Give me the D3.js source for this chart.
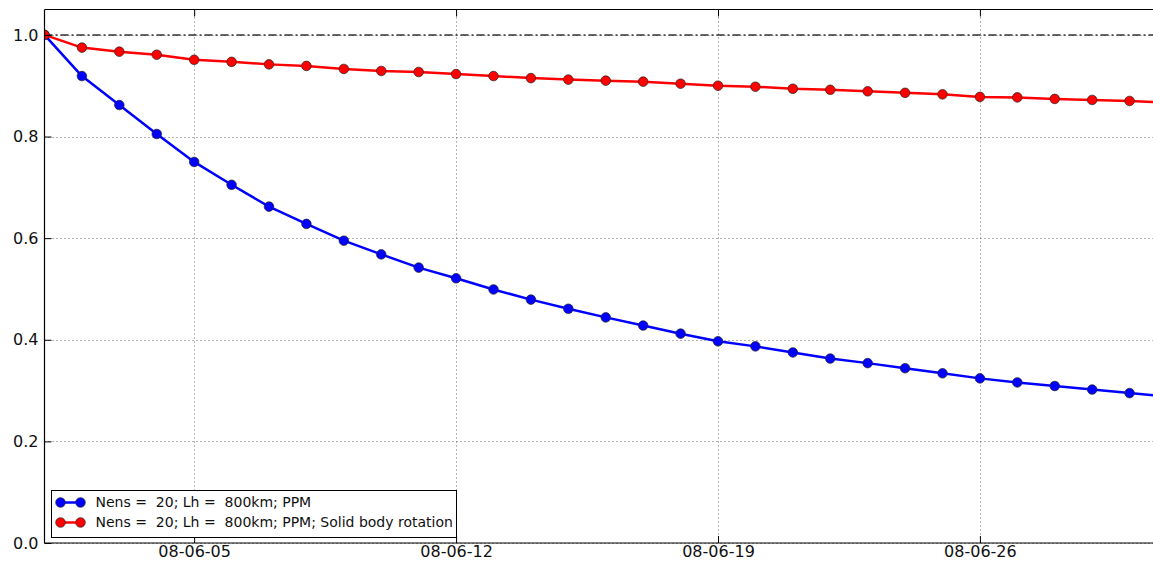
<!DOCTYPE html>
<html>
<head>
<meta charset="utf-8">
<script src="https://cdn.jsdelivr.net/npm/d3@7"></script>
<style>
  html, body { margin: 0; padding: 0; background: #fff; }
  svg { display: block; font-family: "DejaVu Sans", sans-serif; }
  .legend-text { white-space: pre; }
</style>
</head>
<body>
<svg id="chart" width="1153" height="565"></svg>
<script>
// Daily dates, 2008-06-01 .. 2008-07-01
const dates = d3.timeDays(new Date(2008, 5, 1), new Date(2008, 6, 2));

// Series values (normalised)
const ppm = [1.000, 0.919, 0.862, 0.805, 0.750, 0.705, 0.662, 0.628, 0.595, 0.568,
             0.542, 0.521, 0.499, 0.479, 0.461, 0.444, 0.428, 0.412, 0.397, 0.387,
             0.375, 0.363, 0.354, 0.344, 0.334, 0.324, 0.316, 0.309, 0.302, 0.295, 0.288];
const ppmSolid = [1.000, 0.975, 0.967, 0.961, 0.951, 0.947, 0.942, 0.939, 0.933, 0.929,
                  0.927, 0.923, 0.919, 0.915, 0.912, 0.910, 0.908, 0.904, 0.900, 0.898,
                  0.894, 0.892, 0.889, 0.886, 0.883, 0.878, 0.877, 0.874, 0.872, 0.870, 0.867];

const seriesNames = ["Nens =  20; Lh =  800km; PPM",
                     "Nens =  20; Lh =  800km; PPM; Solid body rotation"];
const seriesColors = ["#0000ff", "#ff0000"];

const yTicks = [0.0, 0.2, 0.4, 0.6, 0.8, 1.0];
const xTicks = [new Date(2008, 5, 5), new Date(2008, 5, 12), new Date(2008, 5, 19), new Date(2008, 5, 26)];
const referenceLevel = 1.0;

const svg = d3.select("#chart");
const plot = { left: 44.5, top: 9.5, right: 1167, bottom: 543 };

const x = d3.scaleTime()
  .domain([new Date(2008, 5, 1), new Date(2008, 6, 1)])
  .range([plot.left, plot.right]);
const y = d3.scaleLinear()
  .domain([0, 1.05])
  .range([plot.bottom, plot.top]);

svg.append("defs").append("clipPath").attr("id", "plotclip")
  .append("rect")
  .attr("x", plot.left).attr("y", plot.top)
  .attr("width", plot.right - plot.left).attr("height", plot.bottom - plot.top);

// Grid lines
const grid = svg.append("g").attr("class", "grid")
  .attr("stroke", "#000").attr("stroke-width", 0.7).attr("stroke-dasharray", "1,3")
  .attr("opacity", 0.85);
grid.selectAll("line.gx").data(xTicks).join("line")
  .attr("x1", d => Math.round(x(d)) + 0.5).attr("x2", d => Math.round(x(d)) + 0.5)
  .attr("y1", plot.top).attr("y2", plot.bottom);
grid.selectAll("line.gy").data(yTicks).join("line")
  .attr("x1", plot.left).attr("x2", plot.right)
  .attr("y1", d => Math.round(y(d)) + 0.5).attr("y2", d => Math.round(y(d)) + 0.5);

// Reference line at 1.0
svg.append("line")
  .attr("x1", plot.left).attr("x2", plot.right)
  .attr("y1", y(referenceLevel)).attr("y2", y(referenceLevel))
  .attr("stroke", "#333").attr("stroke-width", 1.5)
  .attr("stroke-dasharray", "8,3,2,3");

// Series lines and markers
const lineGen = d3.line().x((d, i) => x(dates[i])).y(d => y(d));
const gData = svg.append("g").attr("clip-path", "url(#plotclip)");
[ppm, ppmSolid].forEach((vals, k) => {
  gData.append("path")
    .datum(vals)
    .attr("d", lineGen)
    .attr("fill", "none")
    .attr("stroke", seriesColors[k])
    .attr("stroke-width", 2.5)
    .attr("stroke-linejoin", "round");
  gData.selectAll("circle.s" + k).data(vals).join("circle")
    .attr("class", "s" + k)
    .attr("cx", (d, i) => x(dates[i]))
    .attr("cy", d => y(d))
    .attr("r", 4.8)
    .attr("fill", seriesColors[k])
    .attr("stroke", "#222")
    .attr("stroke-width", 0.7);
});

// Frame (left, top, bottom spines)
const frame = svg.append("g").attr("stroke", "#000").attr("stroke-width", 1.2).attr("fill", "none");
frame.append("line").attr("x1", plot.left).attr("x2", plot.left).attr("y1", plot.top).attr("y2", plot.bottom);
frame.append("line").attr("x1", plot.left).attr("x2", plot.right).attr("y1", plot.top).attr("y2", plot.top);
frame.append("line").attr("x1", plot.left).attr("x2", plot.right).attr("y1", plot.bottom).attr("y2", plot.bottom);

// Axes: ticks point inward
const xAxis = d3.axisBottom(x).tickValues(xTicks).tickFormat(d3.timeFormat("%y-%m-%d"))
  .tickSizeInner(-7).tickSizeOuter(0).tickPadding(3);
const gx = svg.append("g").attr("transform", `translate(0,${plot.bottom})`).call(xAxis);
gx.select(".domain").remove();
gx.selectAll("text").attr("font-size", 16).attr("fill", "#111").attr("font-family", "DejaVu Sans");
gx.selectAll("line").attr("stroke", "#000");

const xAxisTop = d3.axisTop(x).tickValues(xTicks).tickFormat("").tickSizeInner(-7).tickSizeOuter(0);
const gxt = svg.append("g").attr("transform", `translate(0,${plot.top})`).call(xAxisTop);
gxt.select(".domain").remove();

const yAxis = d3.axisLeft(y).tickValues(yTicks).tickFormat(d3.format(".1f"))
  .tickSizeInner(-7).tickSizeOuter(0).tickPadding(6);
const gy = svg.append("g").attr("transform", `translate(${plot.left},0)`).call(yAxis);
gy.select(".domain").remove();
gy.selectAll("text").attr("font-size", 16).attr("fill", "#111").attr("font-family", "DejaVu Sans");

// Legend
const legend = svg.append("g").attr("transform", "translate(51.5,490.5)");
legend.append("rect").attr("width", 405).attr("height", 47)
  .attr("fill", "#fff").attr("stroke", "#000").attr("stroke-width", 1);
seriesNames.forEach((name, k) => {
  const ry = 12 + k * 20;
  const row = legend.append("g").attr("transform", `translate(0,${ry})`);
  row.append("line").attr("x1", 9).attr("x2", 29).attr("y1", 0).attr("y2", 0)
    .attr("stroke", seriesColors[k]).attr("stroke-width", 2.5);
  [9, 29].forEach(cx => row.append("circle").attr("cx", cx).attr("cy", 0).attr("r", 4.8)
    .attr("fill", seriesColors[k]).attr("stroke", "#222").attr("stroke-width", 0.7));
  row.append("text").attr("class", "legend-text")
    .attr("x", 44).attr("y", 0).attr("dy", "0.35em")
    .attr("font-size", 14).attr("fill", "#111").text(name);
});
</script>
</body>
</html>
